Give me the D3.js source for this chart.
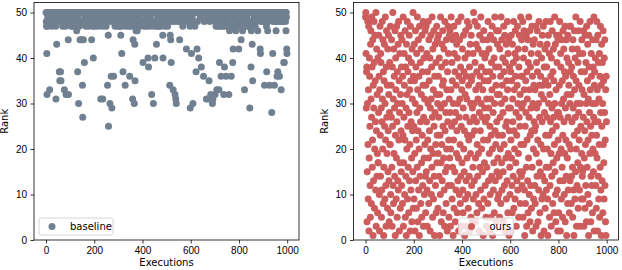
<!DOCTYPE html>
<meta charset="utf-8">
<style>
body { margin: 0; background: #fff; }
svg { font-family: "DejaVu Sans", sans-serif; }
.axis .domain { display: none; }
.axis text { font-size: 10px; fill: #000; }
.axis line { stroke: #000; stroke-width: 0.8; }
</style>
<svg width="622" height="270"></svg>
<script src="https://d3js.org/d3.v7.min.js"></script>
<script>

// rank of every execution (index = execution number)
var baselineRanks = [
  50,48,47,41,32,47,50,49,50,50, 50,50,48,50,50,33,50,50,50,50, 49,50,50,47,50,50,50,50,50,48, 50,50,50,50,50,50,49,50,50,50, 47,31,50,48,43,50,50,50,50,50,
  50,50,50,48,50,37,50,35,49,50, 37,50,35,50,50,50,48,50,50,47, 50,50,50,50,50,49,33,50,50,50, 47,50,50,32,50,50,50,50,48,50, 50,50,44,32,50,49,50,50,50,50,
  50,48,50,50,47,50,50,50,49,50, 50,47,50,50,48,50,50,50,50,50, 49,50,50,47,50,50,48,46,50,50, 50,37,50,49,50,30,50,50,47,50, 50,44,50,50,50,50,48,50,44,50,
  50,34,27,50,48,44,50,50,50,39, 50,50,49,50,50,47,50,50,50,50, 50,48,50,50,50,50,47,50,50,50, 50,50,49,50,50,50,50,50,48,44, 50,50,50,47,50,50,40,50,49,50,
  50,50,48,50,47,50,50,50,50,50, 50,49,50,50,50,50,47,50,50,50, 48,50,50,50,50,50,50,31,50,49, 50,50,50,50,47,31,50,50,48,50, 50,50,50,50,50,49,50,50,50,47,
  50,48,50,50,50,34,50,50,45,25, 50,49,50,50,50,30,50,50,48,50, 36,50,50,29,50,49,50,50,50,50, 36,50,48,50,50,50,47,50,50,49, 50,50,50,50,50,50,48,50,50,47,
  50,50,48,50,50,50,47,50,50,49, 45,50,47,50,41,50,50,48,50,37, 50,50,50,50,50,49,50,50,34,50, 50,47,50,50,48,50,50,50,50,50, 50,49,50,50,47,50,50,36,50,48,
  50,48,50,47,50,50,50,50,50,31, 50,44,50,50,49,50,30,50,43,35, 50,47,50,46,50,50,48,50,46,50, 50,50,50,50,50,49,50,50,50,47, 50,50,48,50,50,50,50,50,50,50,
  50,50,39,50,48,50,50,47,50,50, 50,50,50,49,50,50,50,47,50,50, 48,50,50,40,50,38,50,50,50,50, 47,50,50,49,50,50,50,50,32,50, 50,48,50,50,50,30,50,50,47,50,
  50,40,50,48,50,50,50,50,43,50, 47,50,50,49,50,50,50,50,47,50, 50,48,50,50,50,47,50,50,50,50, 49,50,50,50,45,40,50,48,50,50, 50,50,50,47,50,50,49,50,50,50,
  50,48,50,50,47,50,50,50,50,49, 50,50,50,34,50,45,50,44,48,39, 50,50,50,50,50,50,49,33,50,50, 50,48,50,50,50,32,50,50,31,50, 30,50,49,50,50,50,50,50,50,48,
  50,50,48,50,44,50,50,50,50,50, 50,49,50,50,50,50,50,47,50,50, 50,50,50,50,50,50,50,48,50,50, 50,50,42,50,50,49,50,50,50,50, 50,50,50,48,50,50,50,47,29,50,
  50,48,50,41,50,50,49,50,50,30, 50,50,50,50,50,50,50,47,50,50, 50,50,37,50,50,50,42,50,48,50, 50,50,50,40,50,50,50,50,50,50, 49,50,50,50,38,50,50,50,50,50,
  50,50,50,36,50,50,48,50,50,50, 50,50,50,50,50,31,50,50,49,50, 50,50,31,50,50,50,35,50,50,48, 50,50,50,32,50,50,50,50,50,50, 30,50,31,50,49,50,50,50,50,50,
  50,32,50,48,50,47,50,50,33,50, 50,50,49,50,47,50,50,33,50,39, 50,48,50,50,47,50,36,50,50,49, 50,47,50,50,50,50,50,32,50,48, 38,50,50,47,50,50,49,36,50,50,
  50,48,50,47,50,50,50,50,32,50, 50,46,50,49,50,47,50,50,36,50, 50,50,50,50,39,50,42,50,48,50, 50,47,50,50,50,49,50,46,50,50, 50,50,50,47,50,50,48,50,50,42,
  50,48,50,50,47,50,50,50,50,44, 50,50,49,50,50,46,50,47,50,50, 50,50,50,33,50,50,48,50,50,47, 50,50,50,49,50,50,50,50,50,50, 47,50,50,48,50,29,50,50,50,50,
  38,46,50,50,48,43,50,35,50,50, 50,50,50,49,50,50,50,47,50,50, 50,50,48,50,50,50,50,50,46,50, 50,50,50,50,50,49,50,50,42,41, 50,50,48,50,50,50,50,50,50,49,
  50,48,50,50,50,50,34,50,50,49, 50,50,50,50,47,37,50,50,50,46, 50,48,50,50,50,50,50,34,50,50, 50,50,49,50,50,50,28,50,50,50, 41,50,48,50,50,50,50,34,50,50,
  50,48,50,50,46,50,50,49,36,50, 50,37,50,48,50,50,50,50,36,49, 50,50,48,50,50,33,50,50,49,50, 50,50,48,50,50,50,39,50,39,50, 49,50,50,48,50,46,50,49,42,41
];

var oursRanks = [
  49,50,41,29,37,38,4,15,30,48, 21,9,33,47,2,18,40,36,25,12, 5,43,46,31,8,27,49,38,16,22, 44,1,34,13,29,48,39,7,20,45, 35,26,11,50,3,24,42,14,32,19,
  6,40,17,17,28,45,36,10,2,33, 47,23,14,41,39,29,5,11,26,48, 31,20,44,8,37,1,16,35,43,25, 9,30,49,22,12,3,38,46,27,19, 34,7,42,15,24,45,32,13,4,28,
  39,21,21,47,10,6,34,27,44,16, 3,38,25,50,12,31,8,42,19,36, 29,14,46,1,23,40,33,9,18,47, 26,5,37,30,13,43,11,48,22,35, 2,28,41,17,7,32,45,24,15,38,
  12,44,30,8,36,23,49,3,17,27, 41,34,10,22,46,5,38,14,29,1, 43,20,32,48,9,25,37,16,40,6, 28,45,13,33,21,2,47,35,11,26, 39,18,4,42,31,24,15,50,7,36,
  25,9,43,35,19,2,30,46,13,38, 22,7,41,28,16,49,33,4,24,44, 11,36,20,1,47,29,14,39,26,8, 42,32,17,5,45,23,37,12,34,48, 3,27,40,18,10,31,21,46,14,6,
  34,47,15,26,41,11,3,37,22,30, 48,18,8,44,35,24,13,40,2,29, 20,45,31,10,38,16,49,27,5,42, 19,33,9,46,25,14,1,36,28,43, 12,21,39,6,32,47,17,23,44,30,
  7,19,36,45,27,14,40,1,32,23, 10,49,29,17,4,38,21,43,13,34, 46,25,6,35,18,42,11,30,3,48, 24,15,39,28,8,44,20,33,16,2, 37,26,47,12,41,22,5,31,45,18,
  46,28,3,20,33,49,12,25,39,9, 35,16,44,1,30,22,47,7,41,26, 15,37,4,28,45,11,34,19,43,24, 6,40,30,13,48,18,2,36,27,10, 44,31,21,8,38,14,49,25,3,33,
  17,35,42,11,6,29,45,20,37,15, 24,1,40,32,9,46,27,13,36,3, 31,18,48,23,10,41,7,34,22,47, 14,38,2,26,43,19,30,5,45,35, 12,23,36,29,4,16,41,9,50,27,
  30,13,24,48,39,4,18,33,10,43, 26,37,6,21,47,14,31,42,19,8, 34,2,28,45,16,36,24,11,49,30, 38,20,7,41,27,15,33,44,1,22, 46,9,35,17,29,40,12,26,37,5,
  41,3,31,16,27,44,22,8,48,35, 13,29,42,19,2,37,25,10,45,31, 5,23,39,14,33,47,20,1,36,28, 11,44,17,40,6,30,49,24,13,38, 21,34,4,46,26,15,32,43,9,18,
  23,46,10,38,14,32,5,42,27,20, 36,8,49,30,17,44,11,34,23,40, 28,15,4,47,37,21,12,45,31,2, 39,25,18,43,9,35,26,13,48,33, 6,41,19,29,44,1,24,38,16,10,
  2,29,37,22,45,18,35,12,6,43, 31,26,14,39,48,7,24,33,20,41, 9,46,36,17,28,3,40,23,13,34, 47,11,30,42,19,5,38,27,45,15, 25,32,8,49,21,36,14,44,29,12,
  36,15,48,5,30,40,21,46,33,11, 1,42,25,8,35,28,45,16,3,37, 22,31,13,44,6,39,18,49,27,10, 33,46,4,23,38,12,29,41,7,24, 47,16,36,2,30,43,20,9,34,26,
  44,24,12,33,8,25,47,3,19,39, 29,14,46,37,22,4,41,30,11,48, 17,34,27,6,43,15,36,21,1,32, 40,9,26,45,14,34,10,47,20,31, 2,38,28,13,42,7,35,23,48,16,
  11,38,27,43,20,9,1,34,45,30, 16,23,41,5,32,12,48,26,36,19, 3,40,14,29,46,24,8,37,17,42, 27,35,6,21,49,30,15,43,10,4, 33,25,45,18,39,11,28,2,44,22,
  28,6,45,19,34,48,13,27,2,41, 38,20,9,30,44,16,35,5,23,46, 13,31,42,26,10,37,19,47,4,29, 36,22,14,44,1,40,32,18,8,45, 27,11,39,34,21,6,47,30,13,37,
  47,20,32,8,14,38,26,42,16,5, 44,29,36,11,1,23,46,33,9,40, 27,15,49,35,20,3,30,12,42,24, 17,39,7,46,28,34,22,11,41,3, 48,30,16,25,37,9,19,44,33,14,
  15,41,9,27,46,3,32,18,37,24, 7,45,21,12,39,30,4,47,26,16, 35,43,10,22,31,1,45,38,8,28, 19,48,33,25,4,14,41,36,23,12, 30,6,44,20,38,15,27,49,2,34,
  37,26,19,40,30,12,44,7,23,48, 18,33,2,45,26,14,39,9,31,21, 41,5,36,16,47,28,11,34,1,43, 25,13,39,30,6,46,21,35,17,9, 40,28,44,12,22,4,33,1,36,26
];

var xTicks = [0, 200, 400, 600, 800, 1000];
var yTicks = [0, 10, 20, 30, 40, 50];

var panels = [
  {name: "baseline", ranks: baselineRanks, color: "#708090", left: 34, legend: "left"},
  {name: "ours", ranks: oursRanks, color: "#cd5c5c", left: 353.5, legend: "center"}
];

var svg = d3.select("svg"),
    top_ = 2.5, bottom = 240, w = 265;

panels.forEach(function(p) {
  var x = d3.scaleLinear().domain([-50, 1049]).range([0, w]);
  var y = d3.scaleLinear().domain([0, 52.2]).range([bottom - top_, 0]);
  var h = bottom - top_;

  var g = svg.append("g").attr("transform", "translate(" + p.left + "," + top_ + ")");

  g.append("g").attr("class", "axis")
      .attr("transform", "translate(0," + h + ")")
      .call(d3.axisBottom(x).tickValues(xTicks).tickSize(3.5).tickPadding(3.5).tickFormat(d3.format("d")));

  g.append("g").attr("class", "axis")
      .call(d3.axisLeft(y).tickValues(yTicks).tickSize(3.5).tickPadding(3.5));

  g.append("g")
    .selectAll("circle")
    .data(p.ranks)
    .enter().append("circle")
      .attr("cx", function(d, i) { return x(i); })
      .attr("cy", function(d) { return y(d); })
      .attr("r", 3.5)
      .attr("fill", p.color);

  // frame
  g.append("rect")
      .attr("width", w).attr("height", h)
      .attr("fill", "none").attr("stroke", "#000").attr("stroke-width", 0.8);

  g.append("text")
      .attr("x", w / 2).attr("y", h + 26)
      .attr("text-anchor", "middle").attr("font-size", 10)
      .text("Executions");

  g.append("text")
      .attr("transform", "translate(" + (-26) + "," + (h / 2) + ") rotate(-90)")
      .attr("text-anchor", "middle").attr("font-size", 10)
      .text("Rank");

  // legend
  var lw = p.legend === "left" ? 74 : 55,
      lx = p.legend === "left" ? 5 : (w - lw) / 2,
      ly = h - 22;
  var leg = g.append("g").attr("transform", "translate(" + lx + "," + ly + ")");
  leg.append("rect")
      .attr("width", lw).attr("height", 17).attr("rx", 2)
      .attr("fill", "#fff").attr("fill-opacity", 0.8)
      .attr("stroke", "#ccc").attr("stroke-width", 0.8);
  leg.append("circle")
      .attr("cx", 13).attr("cy", 8.5).attr("r", 3.5).attr("fill", p.color);
  leg.append("text")
      .attr("x", 31).attr("y", 8.5).attr("dy", "0.35em")
      .attr("font-size", 10)
      .text(p.name);
});

</script>
